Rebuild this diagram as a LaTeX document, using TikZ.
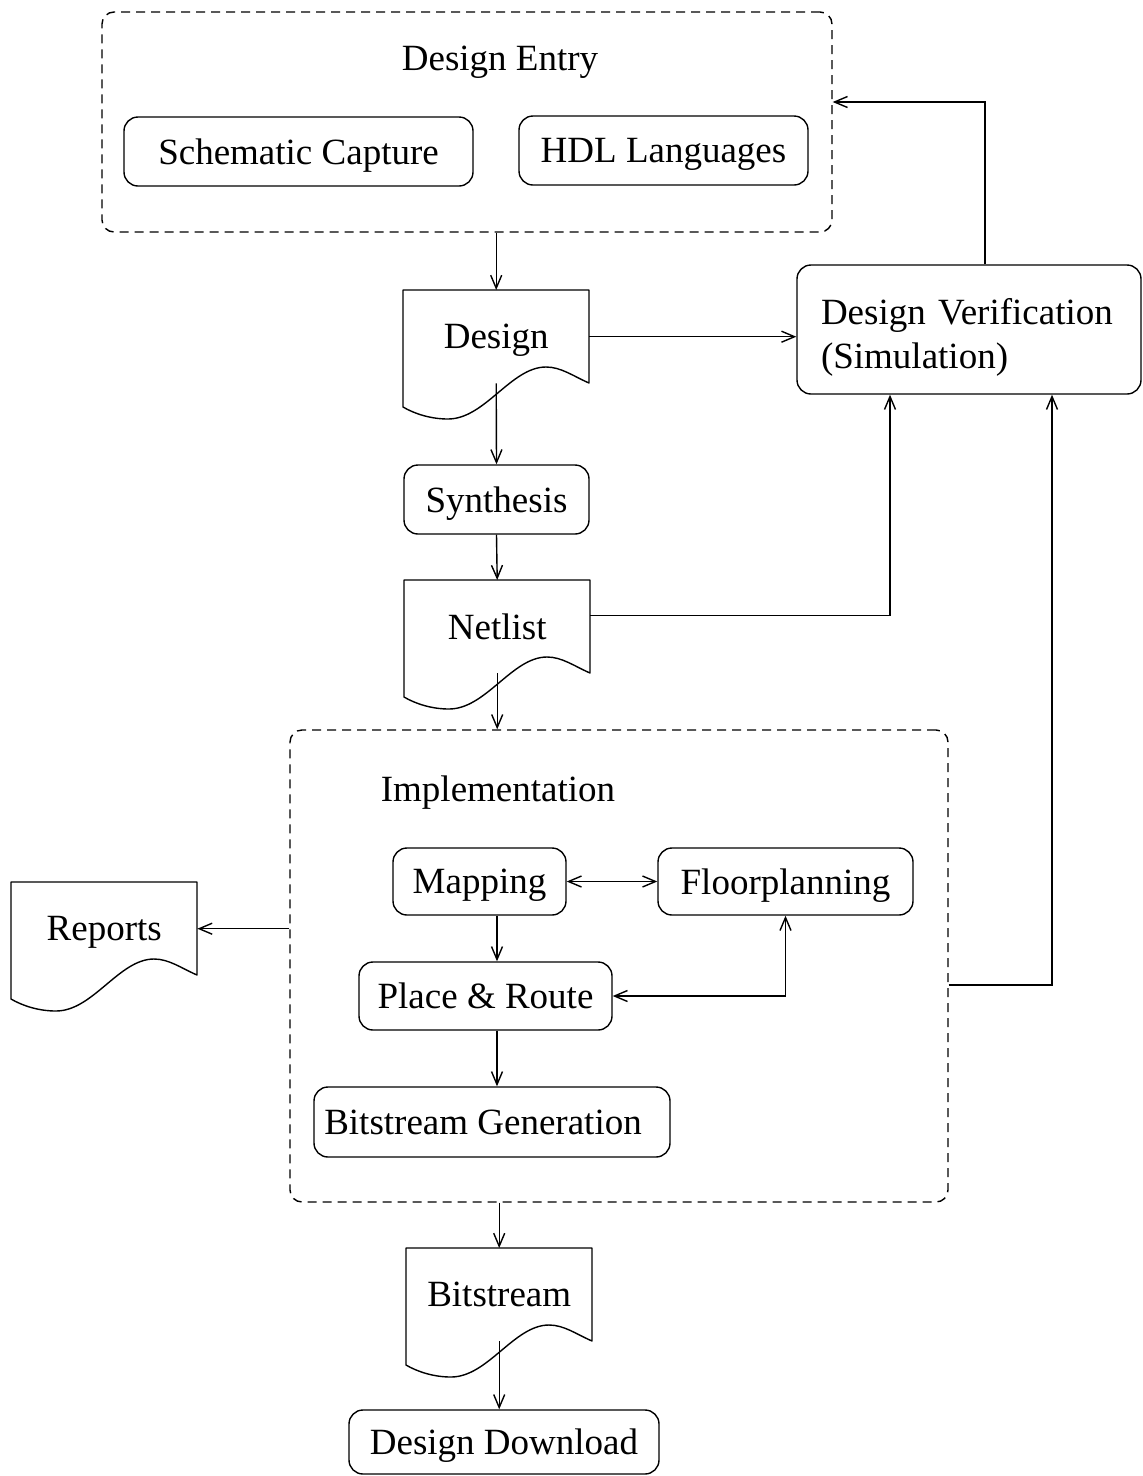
\documentclass[tikz,border=0pt]{standalone}
\usepackage{fontspec}
\setmainfont{Liberation Serif}
\usetikzlibrary{arrows.meta,calc}
\tikzset{
  base/.style={line width=1.4pt},
  box/.style={base, draw, rounded corners=14pt, inner sep=0pt, text depth=0pt, font=\fontsize{37}{44}\selectfont},
  group/.style={base, draw, rounded corners=12pt, dash pattern=on 9pt off 6pt, inner sep=0pt},
  docnode/.style={inner sep=0pt, minimum width=186pt, minimum height=93pt, anchor=north west, text depth=0pt, font=\fontsize{37}{44}\selectfont},
  lbl/.style={font=\fontsize{37}{44}\selectfont, inner sep=0pt, text depth=0pt},
  arr/.style={base, -{Straight Barb[length=13pt,width=11pt,line width=1.4pt]}},
  darr/.style={base, {Straight Barb[length=13pt,width=11pt,line width=1.4pt]}-{Straight Barb[length=13pt,width=11pt,line width=1.4pt]}},
}
\newcommand\docoutline[1]{%
  \begin{scope}[shift={(#1.north west)}]
    \draw[base, line join=round] (0,0) -- (186,0) -- (186,93)
      .. controls (170,86) and (158,77) .. (143,77)
      .. controls (108,77) and (82,129) .. (45,129)
      .. controls (28,129) and (12,124) .. (0,117) -- cycle;
  \end{scope}}
\begin{document}
\begin{tikzpicture}[x=1pt,y=-1pt]
\useasboundingbox (0,0) rectangle (1143,1476);
% groups
\node[group, minimum width=730pt, minimum height=220pt] (entry) at (467,122) {};
\node[lbl] (entrylbl) at (500,58) {Design Entry};
\node[box, minimum width=349pt, minimum height=69pt] (schem) at (298.5,151.5) {Schematic Capture};
\node[box, minimum width=289pt, minimum height=69pt] (hdl) at (663.5,150.5) {HDL Languages};

\node[docnode] (design) at (403,290) {Design};
\docoutline{design}

\node[box, minimum width=344pt, minimum height=129pt, text width=296pt, align=left, text height=25pt, text depth=36pt] (dv) at (969,329.5) {Design Verification\\(Simulation)};

\node[box, minimum width=185pt, minimum height=69pt] (synth) at (496.5,499.5) {Synthesis};

\node[docnode] (netlist) at (404,580) {Netlist};
\docoutline{netlist}

\node[group, minimum width=658pt, minimum height=472pt] (impl) at (619,966) {};
\node[lbl] (impllbl) at (498,789) {Implementation};
\node[box, minimum width=173pt, minimum height=67pt] (map) at (479.5,881.5) {Mapping};
\node[box, minimum width=255pt, minimum height=67pt] (fp) at (785.5,881.5) {Floorplanning};
\node[box, minimum width=253pt, minimum height=68pt] (pr) at (485.5,996) {Place \& Route};
\node[box, minimum width=356pt, minimum height=70pt] (bg) at (492,1122) {\hspace{-18pt}Bitstream Generation};

\node[docnode] (reports) at (11,882) {Reports};
\docoutline{reports}

\node[docnode] (bits) at (406,1248) {Bitstream};
\docoutline{bits}

\node[box, minimum width=310pt, minimum height=64pt] (dd) at (504,1442) {Design Download};

\coordinate (spine) at (497,0);

% connectors
\draw[arr] (design.north |- entry.south) -- (design.north);
\draw[arr] (design.east) -- (dv.west |- design.east);
\draw[arr] ([xshift=16pt]dv.north) |- ([yshift=20pt]entry.east);
\draw[arr] (design.south) -- (synth.north);
\draw[arr] (synth.south) -- (netlist.north);
\draw[arr] ([yshift=11pt]netlist.east) -| ([xshift=-79pt]dv.south);
\draw[arr] (netlist.south) -- (netlist.south |- impl.north);
\draw[darr] (map.east) -- (fp.west);
\draw[arr] (spine |- map.south) -- (spine |- pr.north);
\draw[darr] (pr.east) -| (fp.south);
\draw[arr] (spine |- pr.south) -- (spine |- bg.north);
\draw[arr] ([yshift=-19pt]impl.east) -| ([xshift=83pt]dv.south);
\draw[arr] (impl.west |- reports.east) -- (reports.east);
\draw[arr] (bits.north |- impl.south) -- (bits.north);
\draw[arr] (bits.south) -- (bits.south |- dd.north);
\end{tikzpicture}
\end{document}
